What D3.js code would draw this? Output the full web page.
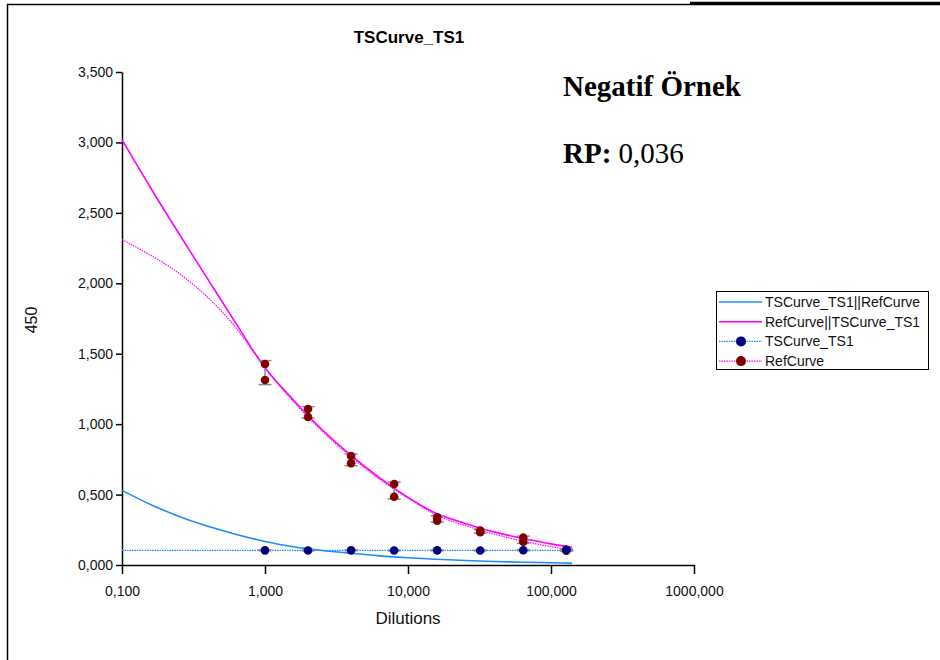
<!DOCTYPE html>
<html>
<head>
<meta charset="utf-8">
<script src="https://cdn.jsdelivr.net/npm/d3@7"></script>
<style>
  body { margin: 0; background: #fff; }
  text { font-family: "Liberation Sans", Arial, sans-serif; }
</style>
</head>
<body>
<script>
//chart values
var dilutions = [1, 2, 4, 8, 16, 32, 64, 128];

//measured points
var tsValues = [0.104, 0.103, 0.104, 0.103, 0.104, 0.103, 0.105, 0.106];
var refRep1 = [1.427, 1.108, 0.774, 0.575, 0.339, 0.244, 0.194, 0.110];
var refRep2 = [1.313, 1.051, 0.722, 0.485, 0.315, 0.232, 0.165, 0.102];
var refErrLow = [1.281, 1.044, 0.705, 0.469, 0.305, 0.226, 0.155, 0.098];
var refErrHigh = [1.451, 1.124, 0.788, 0.589, 0.350, 0.251, 0.205, 0.114];
var tsErrLow = [0.101, 0.100, 0.101, 0.100, 0.101, 0.100, 0.101, 0.102];
var tsErrHigh = [0.107, 0.106, 0.107, 0.106, 0.107, 0.106, 0.109, 0.110];

//fitted curves (dilution, value)
var curveDil = [0.1, 0.158, 0.251, 0.398, 0.631, 1, 1.585, 2.512, 3.981, 6.31, 10, 15.85, 25.12, 39.81, 63.1, 100, 140];
var refFitSolid = [3.02, 2.68, 2.35, 2.03, 1.71, 1.40, 1.17, 0.96, 0.78, 0.62, 0.48, 0.365, 0.295, 0.235, 0.19, 0.15, 0.125];
var refFitDotted = [2.31, 2.20, 2.07, 1.90, 1.68, 1.40, 1.16, 0.95, 0.77, 0.61, 0.475, 0.355, 0.28, 0.22, 0.17, 0.13, 0.105];
var tsFitSolid = [0.53, 0.43, 0.345, 0.275, 0.217, 0.167, 0.13, 0.103, 0.083, 0.065, 0.051, 0.041, 0.032, 0.025, 0.02, 0.016, 0.013];
var tsFitDil = [0.1, 145];
var tsFitDotted = [0.104, 0.104];

var xTicks = [0.1, 1, 10, 100, 1000];
var yTicks = [0, 0.5, 1, 1.5, 2, 2.5, 3, 3.5];

var legendItems = [
    {label: "TSCurve_TS1||RefCurve", color: "#1a8cff", dotted: false, marker: null},
    {label: "RefCurve||TSCurve_TS1", color: "#ff00ff", dotted: false, marker: null},
    {label: "TSCurve_TS1", color: "#1a8cff", dotted: true, marker: "#000080"},
    {label: "RefCurve", color: "#ff00ff", dotted: true, marker: "#800000"}
];

var width = 940,
    height = 660;

var svg = d3.select("body")
    .append("svg")
    .attr("width", width)
    .attr("height", height);

//frame lines
svg.append("line").attr("x1", 7).attr("y1", 4.5).attr("x2", 940).attr("y2", 4.5)
    .attr("stroke", "#000").attr("stroke-width", 1.5);
svg.append("line").attr("x1", 690).attr("y1", 3).attr("x2", 940).attr("y2", 3)
    .attr("stroke", "#000").attr("stroke-width", 2.5);
svg.append("line").attr("x1", 7.5).attr("y1", 4).attr("x2", 7.5).attr("y2", 660)
    .attr("stroke", "#000").attr("stroke-width", 1.5);

var x = d3.scaleLog().domain([0.1, 1000]).range([122, 694]);
var y = d3.scaleLinear().domain([0, 3.5]).range([565, 72]);

var fmt = function(d){ return d3.format(".3f")(d).replace(".", ","); };

//axes
var xAxis = svg.append("g")
    .attr("transform", "translate(0," + y(0) + ")")
    .call(d3.axisBottom(x).tickValues(xTicks).tickFormat(fmt).tickSize(9).tickSizeOuter(0).tickPadding(12));
var yAxis = svg.append("g")
    .attr("transform", "translate(" + x(0.1) + ",0)")
    .call(d3.axisLeft(y).tickValues(yTicks).tickFormat(fmt).tickSize(6).tickSizeOuter(0).tickPadding(3));

[xAxis, yAxis].forEach(function(a){
    a.selectAll("path, line").attr("stroke", "#000").attr("stroke-width", 1.5);
    a.selectAll("text").attr("fill", "#111").style("font-size", "14px")
        .style("font-family", "'Liberation Sans', Arial, sans-serif");
});

//curves
var line = d3.line()
    .x(function(d){ return x(d[0]); })
    .y(function(d){ return y(d[1]); })
    .curve(d3.curveMonotoneX);

function drawCurve(xs, ys, color, w, dash){
    svg.append("path")
        .datum(d3.zip(xs, ys))
        .attr("d", line)
        .attr("fill", "none")
        .attr("stroke", color)
        .attr("stroke-width", w)
        .attr("stroke-dasharray", dash);
}

drawCurve(tsFitDil, tsFitDotted, "#1a8cff", 1.2, "1.5,1");
drawCurve(curveDil, refFitDotted, "#ff00ff", 1.2, "1.5,1");
drawCurve(curveDil, tsFitSolid, "#1a8cff", 1.6, null);
drawCurve(curveDil, refFitSolid, "#ff00ff", 1.6, null);

//error bars
function drawErr(lo, hi){
    var g = svg.append("g").attr("stroke", "#8c8c8c").attr("stroke-width", 1.5);
    dilutions.forEach(function(d, i){
        var cx = x(d);
        g.append("line").attr("x1", cx).attr("x2", cx).attr("y1", y(lo[i])).attr("y2", y(hi[i]));
        g.append("line").attr("x1", cx - 6.5).attr("x2", cx + 6.5).attr("y1", y(lo[i])).attr("y2", y(lo[i]));
        g.append("line").attr("x1", cx - 6.5).attr("x2", cx + 6.5).attr("y1", y(hi[i])).attr("y2", y(hi[i]));
    });
}
drawErr(refErrLow, refErrHigh);
drawErr(tsErrLow, tsErrHigh);

//points
function drawPoints(vals, color){
    svg.append("g").selectAll("circle")
        .data(d3.zip(dilutions, vals))
        .enter()
        .append("circle")
        .attr("cx", function(d){ return x(d[0]); })
        .attr("cy", function(d){ return y(d[1]); })
        .attr("r", 4.3)
        .attr("fill", color);
}
drawPoints(refRep1, "#800000");
drawPoints(refRep2, "#800000");
drawPoints(tsValues, "#000080");

//title and axis labels
svg.append("text")
    .attr("x", 409).attr("y", 43)
    .attr("text-anchor", "middle")
    .style("font-weight", "bold").style("font-size", "17px")
    .text("TSCurve_TS1");

svg.append("text")
    .attr("x", 408).attr("y", 624)
    .attr("text-anchor", "middle")
    .style("font-size", "17px").attr("fill", "#111")
    .text("Dilutions");

svg.append("text")
    .attr("transform", "translate(37,320) rotate(-90)")
    .attr("text-anchor", "middle")
    .style("font-size", "16px").attr("fill", "#111")
    .text("450");

//annotation
svg.append("text")
    .attr("x", 563).attr("y", 96)
    .style("font-family", "'Liberation Serif', 'Times New Roman', serif")
    .style("font-weight", "bold").style("font-size", "29px")
    .text("Negatif Örnek");

var rp = svg.append("text")
    .attr("x", 563).attr("y", 163)
    .style("font-family", "'Liberation Serif', 'Times New Roman', serif")
    .style("font-size", "29px");
rp.append("tspan").style("font-weight", "bold").text("RP:");
rp.append("tspan").text(" 0,036");

//legend
var legend = svg.append("g");
legend.append("rect")
    .attr("x", 716.5).attr("y", 291.5)
    .attr("width", 212).attr("height", 78)
    .attr("fill", "#fff").attr("stroke", "#000").attr("stroke-width", 1);

var rows = legend.selectAll(".row")
    .data(legendItems)
    .enter()
    .append("g")
    .attr("transform", function(d, i){ return "translate(0," + (302 + i * 19.7) + ")"; });

rows.append("line")
    .attr("x1", 719).attr("x2", 762)
    .attr("stroke", function(d){ return d.color; })
    .attr("stroke-width", function(d){ return d.dotted ? 1.2 : 1.6; })
    .attr("stroke-dasharray", function(d){ return d.dotted ? "1.5,1" : null; });

rows.filter(function(d){ return d.marker; })
    .append("circle")
    .attr("cx", 741).attr("r", 5)
    .attr("fill", function(d){ return d.marker; });

rows.append("text")
    .attr("x", 765).attr("dy", "0.35em")
    .style("font-size", "14px").attr("fill", "#111")
    .text(function(d){ return d.label; });
</script>
</body>
</html>
